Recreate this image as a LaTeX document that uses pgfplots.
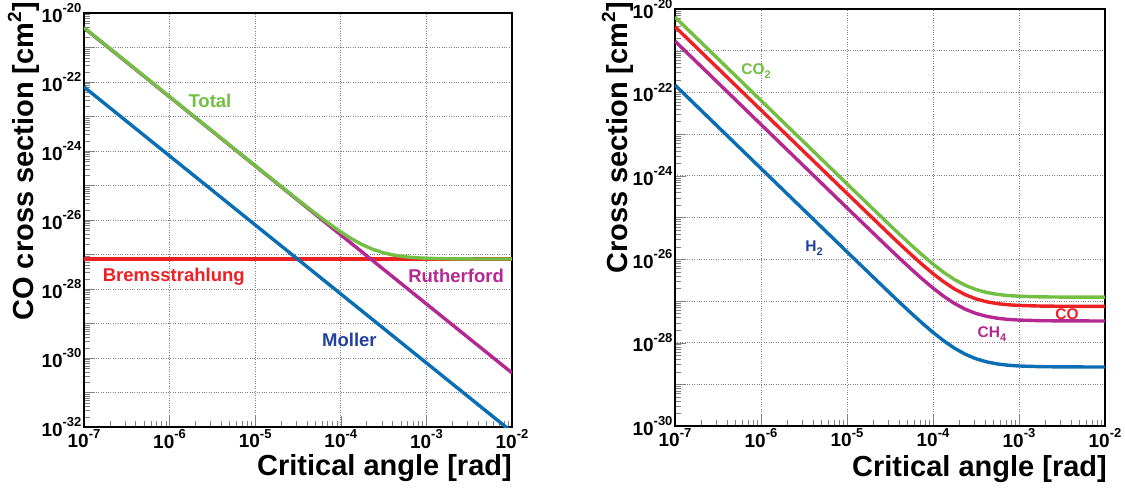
\documentclass[border=0pt]{standalone}
\usepackage{fontspec}
\setmainfont{Liberation Sans}
\usepackage{pgfplots}
\pgfplotsset{compat=1.18}

\definecolor{cgreen}{RGB}{115,191,68}
\definecolor{cred}{RGB}{237,32,36}
\definecolor{cmag}{RGB}{180,40,145}
\definecolor{cblue}{RGB}{10,110,180}
\definecolor{lblue}{RGB}{35,65,160}

\newcommand{\tk}[1]{10\raisebox{9.5pt}{\fontsize{13}{13}\selectfont #1}}
\newcommand{\bigsup}[1]{\raisebox{12pt}{\fontsize{19}{19}\selectfont #1}}
\newcommand{\lsub}[1]{\raisebox{-3.5pt}{\fontsize{11}{11}\selectfont #1}}

\pgfplotsset{rootstyle/.style={
  scale only axis, xmin=1e-7, xmax=1e-2,
  axis line style={line width=1.2pt},
  tick align=inside, xtick pos=left, ytick pos=left,
  major tick length=11pt, minor tick length=6pt,
  grid=major, grid style={dotted, gray, line width=0.8pt},
  xtick={1e-7,1e-6,1e-5,1e-4,1e-3,1e-2},
  xticklabels={\tk{-7},\tk{-6},\tk{-5},\tk{-4},\tk{-3},\tk{-2}},
  tick label style={font=\fontsize{19}{19}\selectfont\bfseries},
  xticklabel style={yshift=1pt},
  yticklabel style={yshift=0pt, xshift=1pt},
  every axis plot/.append style={line width=3.4pt},
}}

\begin{document}
\begin{tikzpicture}
\useasboundingbox (0pt,0pt) rectangle (1125pt,492pt);

% ---------------- left panel ----------------
\begin{loglogaxis}[rootstyle, at={(84pt,65pt)}, anchor=south west, width=428pt, height=414pt,
  ymin=1e-32, ymax=1e-20,
  ytick={1e-32,1e-31,1e-30,1e-29,1e-28,1e-27,1e-26,1e-25,1e-24,1e-23,1e-22,1e-21,1e-20},
  yticklabels={\tk{-32},{},\tk{-30},{},\tk{-28},{},\tk{-26},{},\tk{-24},{},\tk{-22},{},\tk{-20}},
]
% Bremsstrahlung
\addplot[cred] coordinates {(1e-7,7.4e-28) (1e-2,7.4e-28)};
% Moller
\addplot[cblue] coordinates {(1e-7,7.2e-23) (1e-2,7.2e-33)};
% Rutherford
\addplot[cmag] coordinates {(1e-7,3.7e-21) (1e-2,3.7e-31)};
% Total
\addplot[cgreen] coordinates {
(1e-7,3.772e-21) (1e-6,3.772e-23) (1e-5,3.779e-25) (3.162e-5,3.846e-26)
(4.217e-5,2.195e-26) (5.623e-5,1.267e-26) (7.499e-5,7.447e-27) (1e-4,4.512e-27)
(1.334e-4,2.861e-27) (1.778e-4,1.933e-27) (2.371e-4,1.411e-27) (3.162e-4,1.117e-27)
(4.217e-4,9.521e-28) (5.623e-4,8.593e-28) (7.499e-4,8.071e-28) (1e-3,7.777e-28)
(1.778e-3,7.519e-28) (3.162e-3,7.438e-28) (1e-2,7.404e-28)};
\node[text=cgreen, font=\fontsize{18.5}{18.5}\selectfont\bfseries] at (axis cs:2.96e-6,2.8e-23) {Total};
\node[text=cred, font=\fontsize{18.5}{18.5}\selectfont\bfseries] at (axis cs:1.12e-6,2.24e-28) {Bremsstrahlung};
\node[text=cmag, font=\fontsize{18.5}{18.5}\selectfont\bfseries] at (axis cs:2.22e-3,2.4e-28) {Rutherford};
\node[text=lblue, font=\fontsize{18.5}{18.5}\selectfont\bfseries] at (axis cs:1.26e-4,3.3e-30) {Moller};
\end{loglogaxis}

% ---------------- right panel ----------------
\begin{loglogaxis}[rootstyle, at={(675pt,66pt)}, anchor=south west, width=430pt, height=417pt,
  ymin=1e-30, ymax=1e-20,
  ytick={1e-30,1e-29,1e-28,1e-27,1e-26,1e-25,1e-24,1e-23,1e-22,1e-21,1e-20},
  yticklabels={\tk{-30},{},\tk{-28},{},\tk{-26},{},\tk{-24},{},\tk{-22},{},\tk{-20}},
]
% H2
\addplot[cblue] coordinates {
(1e-7,1.5e-22) (1e-6,1.5e-24) (1e-5,1.503e-26) (3.162e-5,1.526e-27)
(4.217e-5,8.695e-28) (5.623e-5,5.003e-28) (7.499e-5,2.927e-28) (1e-4,1.76e-28)
(1.334e-4,1.104e-28) (1.778e-4,7.343e-29) (2.371e-4,5.267e-29) (3.162e-4,4.1e-29)
(4.217e-4,3.444e-29) (5.623e-4,3.074e-29) (7.499e-4,2.867e-29) (1e-3,2.75e-29)
(1.778e-3,2.647e-29) (3.162e-3,2.615e-29) (1e-2,2.6015e-29)};
% CH4
\addplot[cmag] coordinates {
(1e-7,1.7e-21) (1e-6,1.7e-23) (1e-5,1.703e-25) (3.162e-5,1.733e-26)
(4.217e-5,9.889e-27) (5.623e-5,5.705e-27) (7.499e-5,3.353e-27) (1e-4,2.03e-27)
(1.334e-4,1.286e-27) (1.778e-4,8.675e-28) (2.371e-4,6.323e-28) (3.162e-4,5.0e-28)
(4.217e-4,4.256e-28) (5.623e-4,3.838e-28) (7.499e-4,3.602e-28) (1e-3,3.47e-28)
(1.778e-3,3.354e-28) (3.162e-3,3.317e-28) (1e-2,3.3017e-28)};
% CO
\addplot[cred] coordinates {
(1e-7,3.772e-21) (1e-6,3.772e-23) (1e-5,3.779e-25) (3.162e-5,3.846e-26)
(4.217e-5,2.195e-26) (5.623e-5,1.267e-26) (7.499e-5,7.447e-27) (1e-4,4.512e-27)
(1.334e-4,2.861e-27) (1.778e-4,1.933e-27) (2.371e-4,1.411e-27) (3.162e-4,1.117e-27)
(4.217e-4,9.521e-28) (5.623e-4,8.593e-28) (7.499e-4,8.071e-28) (1e-3,7.777e-28)
(1.778e-3,7.519e-28) (3.162e-3,7.438e-28) (1e-2,7.404e-28)};
% CO2
\addplot[cgreen] coordinates {
(1e-7,6.4e-21) (1e-6,6.4e-23) (1e-5,6.412e-25) (3.162e-5,6.523e-26)
(4.217e-5,3.722e-26) (5.623e-5,2.147e-26) (7.499e-5,1.261e-26) (1e-4,7.63e-27)
(1.334e-4,4.829e-27) (1.778e-4,3.254e-27) (2.371e-4,2.368e-27) (3.162e-4,1.87e-27)
(4.217e-4,1.590e-27) (5.623e-4,1.432e-27) (7.499e-4,1.344e-27) (1e-3,1.294e-27)
(1.778e-3,1.250e-27) (3.162e-3,1.236e-27) (1e-2,1.2306e-27)};
\node[text=cgreen, font=\fontsize{15.5}{15.5}\selectfont\bfseries] at (axis cs:8.75e-7,3.26e-22) {CO\lsub{2}};
\node[text=lblue, font=\fontsize{15.5}{15.5}\selectfont\bfseries] at (axis cs:4.13e-6,1.86e-26) {H\lsub{2}};
\node[text=cred, font=\fontsize{15.5}{15.5}\selectfont\bfseries] at (axis cs:3.61e-3,4.85e-28) {CO};
\node[text=cmag, font=\fontsize{15.5}{15.5}\selectfont\bfseries] at (axis cs:4.85e-4,1.6e-28) {CH\lsub{4}};
\end{loglogaxis}

% axis titles
\node[rotate=90, anchor=base east, inner sep=0pt, font=\fontsize{29}{29}\selectfont\bfseries] at (33pt,490pt) {CO cross section [cm\bigsup{2}]};
\node[rotate=90, anchor=base east, inner sep=0pt, font=\fontsize{29}{29}\selectfont\bfseries] at (627pt,490pt) {Cross section [cm\bigsup{2}]};
\node[anchor=base east, inner sep=0pt, font=\fontsize{29}{29}\selectfont\bfseries] at (512pt,16pt) {Critical angle [rad]};
\node[anchor=base east, inner sep=0pt, font=\fontsize{29}{29}\selectfont\bfseries] at (1107pt,15pt) {Critical angle [rad]};
\end{tikzpicture}
\end{document}
